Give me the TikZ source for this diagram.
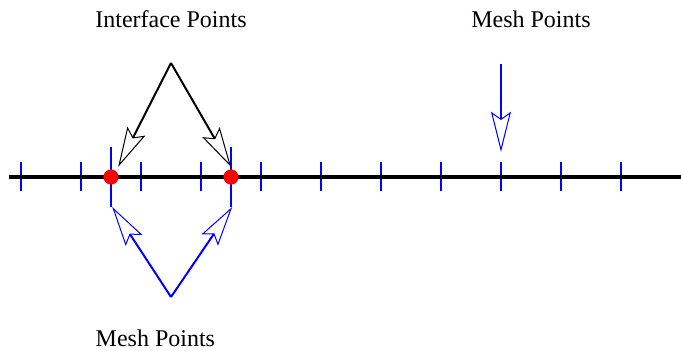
\documentclass[tikz,border=0pt]{standalone}
\usepackage{fontspec}
\setmainfont{Liberation Serif}
\usetikzlibrary{arrows.meta}

\tikzset{
    meshtick/.style={blue, line width=0.6pt},
    ifacetick/.style={blue, line width=1pt},
    ptarrow/.style={line width=1pt,
        -{Stealth[open, length=20pt, width=10pt, inset=3.5pt, line width=0.5pt]}},
    ipdot/.style={circle, fill=red, inner sep=0pt, minimum size=7.6pt},
    txt/.style={font=\fontsize{12}{14}\selectfont}
}

\begin{document}
\begin{tikzpicture}[x=30pt,y=30pt]

    \useasboundingbox (-0.35,-2.9) rectangle (11.0,2.95);

    % mesh ticks along the line
    \foreach \i in {0,...,10} {
        \draw[meshtick] (\i,-0.24) -- (\i,0.25);
    }
    % longer ticks at the interface points
    \foreach \i in {1.5,3.5} {
        \draw[ifacetick] (\i,-0.5) -- (\i,0.5);
    }

    % the line itself
    \draw[line width=2pt] (-0.2,0) -- (11.0,0);

    % interface points
    \node[ipdot] (ip1) at (1.5,0) {};
    \node[ipdot] (ip2) at (3.5,0) {};

    % labels
    \node[txt] (iface) at (2.5,2.63) {Interface Points};
    \node[txt] (meshtop) at (8.5,2.63) {Mesh Points};
    \node[txt] (meshbot) at (2.24,-2.69) {Mesh Points};

    % arrow ends
    \coordinate (itop) at (2.5,1.9);
    \coordinate (ibot) at (2.5,-2.0);
    \coordinate (tipa) at (1.62,0.17);
    \coordinate (tipb) at (3.5,0.17);
    \coordinate (tipc) at (1.52,-0.5);
    \coordinate (tipd) at (3.52,-0.5);
    \coordinate (mtop) at (8,1.88);
    \coordinate (mtip) at (8,0.42);

    % arrows to the interface points
    \draw[ptarrow] (itop) -- (tipa);
    \draw[ptarrow] (itop) -- (tipb);

    % arrows to the mesh points
    \draw[ptarrow, blue] (ibot) -- (tipc);
    \draw[ptarrow, blue] (ibot) -- (tipd);
    \draw[ptarrow, blue] (mtop) -- (mtip);

\end{tikzpicture}
\end{document}
